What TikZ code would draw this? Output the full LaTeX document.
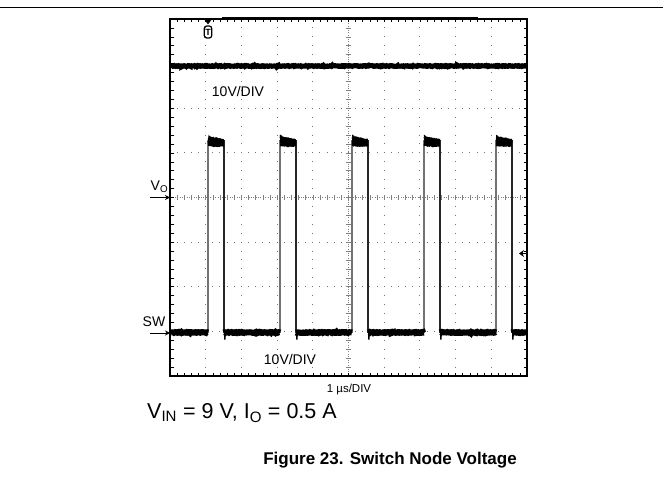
\documentclass[tikz,border=0pt]{standalone}
\usepackage{fontspec}
\setmainfont{Liberation Sans}
\usetikzlibrary{decorations.pathmorphing,arrows.meta}
\begin{document}
\begin{tikzpicture}[x=1pt,y=-1pt,
  griddot/.style={black!55, line width=1pt},
  frameline/.style={line width=1.6pt},
  tickline/.style={line width=0.6pt},
  noisy/.style={decorate, decoration={random steps,segment length=0.8pt,amplitude=0.45pt}},
  riseline/.style={line width=1.3pt, black!55},
  fallline/.style={line width=1.1pt, black!85},
  lbl/.style={inner sep=0pt, font=\fontsize{14}{15}\selectfont},
  chanarrow/.style={-{Stealth[length=5pt,width=5pt]}, line width=1pt}]
\useasboundingbox (0,0) rectangle (663,487);
\pgfmathsetmacro{\dx}{35.7}
\pgfmathsetmacro{\dy}{44.625}
% top rule
\draw[line width=1pt] (0,8) -- (663,8);
% grid
\foreach \k in {1,2,3,4,6,7,8,9}
  \draw[griddot, dash pattern=on 1pt off 7.925pt, dash phase=0.5pt] ({170+\k*\dx},19) -- ({170+\k*\dx},376);
\foreach \k in {1,2,3,5,6,7}
  \draw[griddot, dash pattern=on 1pt off 6.14pt, dash phase=0.5pt] (170,{19+\k*\dy}) -- (527,{19+\k*\dy});
% center cross
\draw[gray, line width=0.8pt, dash pattern=on 0.9pt off 1.33pt] (348.5,19) -- (348.5,376);
\draw[gray, line width=0.8pt, dash pattern=on 0.9pt off 1.48pt] (170,197.5) -- (527,197.5);
\foreach \i in {1,...,39}
  \draw[gray, tickline] ({346},{19+\i*\dy/5}) -- ({351},{19+\i*\dy/5});
\foreach \i in {1,...,49}
  \draw[gray, tickline] ({170+\i*\dx/5},195) -- ({170+\i*\dx/5},200);
% edge ticks
\foreach \i in {1,...,49} {
  \draw[tickline] ({170+\i*\dx/5},19) -- ({170+\i*\dx/5},22.5);
  \draw[tickline] ({170+\i*\dx/5},376) -- ({170+\i*\dx/5},372.5);
}
\foreach \i in {1,...,39} {
  \draw[tickline] (170,{19+\i*\dy/5}) -- (173.5,{19+\i*\dy/5});
  \draw[tickline] (527,{19+\i*\dy/5}) -- (523.5,{19+\i*\dy/5});
}
% frame
\draw[frameline] (170,19) rectangle (527,376);
\draw[line width=2.6pt] (222,18.5) -- (478,18.5);
% trigger marker
\fill (204,19) -- (212,19) -- (208,24.5) -- cycle;
\node[draw, line width=1.2pt, rounded corners=2.5pt, inner sep=0.6pt, minimum width=7.5pt, minimum height=12pt, font=\fontsize{9}{9}\bfseries\selectfont] (trig) at (208,32) {T};
% top trace
\draw[line width=5pt, noisy] (171,66) -- (526,66);
% SW trace
\foreach \r in {208,280,352,424,496} {
  \draw[riseline] (\r,333) -- (\r,140);
  \draw[fallline] ({\r+16},140) -- ({\r+16},333);
  \fill[noisy] (\r,134.5) -- ({\r+2.5},136.5) -- ({\r+16},139) -- ({\r+16},146.5) -- ({\r+8},147) -- (\r,146) -- cycle;
}
\foreach \a/\b in {171/208,224/280,296/352,368/424,440/496,512/526}
  \draw[line width=6pt, noisy] (\a,332.5) -- (\b,332.5);
\foreach \f in {224,296,368,440,512}
  \fill (\f,333) -- ({\f+2},333) -- ({\f+1.5},339.5) -- (\f,339.5) -- cycle;
% labels
\node[lbl] (top10) at (238,91) {10V/DIV};
\node[lbl] (bot10) at (290,359.5) {10V/DIV};
\node[lbl, font=\fontsize{11.5}{13}\selectfont] (tdiv) at (349,390) {1 µs/DIV};
\node[lbl, anchor=base west] (vo) at (150.5,190.5) {V\textsubscript{O}};
\coordinate (voa) at (150,197.5);
\coordinate (vob) at (170,197.5);
\draw[chanarrow] (voa) -- (vob);
\node[lbl, anchor=base west] (sw) at (142.5,326.5) {SW};
\coordinate (swa) at (150,333);
\coordinate (swb) at (170,333);
\draw[chanarrow] (swa) -- (swb);
\coordinate (mka) at (527,253.5);
\coordinate (mkb) at (519,253.5);
\draw[-{Stealth[length=5pt,width=7pt]}, line width=1pt] (mka) -- (mkb);
\node[anchor=west, inner sep=0pt, font=\fontsize{21.5}{24}\selectfont] (cond) at (147,413) {V\textsubscript{IN} = 9 V, I\textsubscript{O} = 0.5 A};
\node[inner sep=0pt, font=\fontsize{17}{20}\bfseries\selectfont] (cap) at (390,460) {Figure 23. Switch Node Voltage};
\end{tikzpicture}
\end{document}
